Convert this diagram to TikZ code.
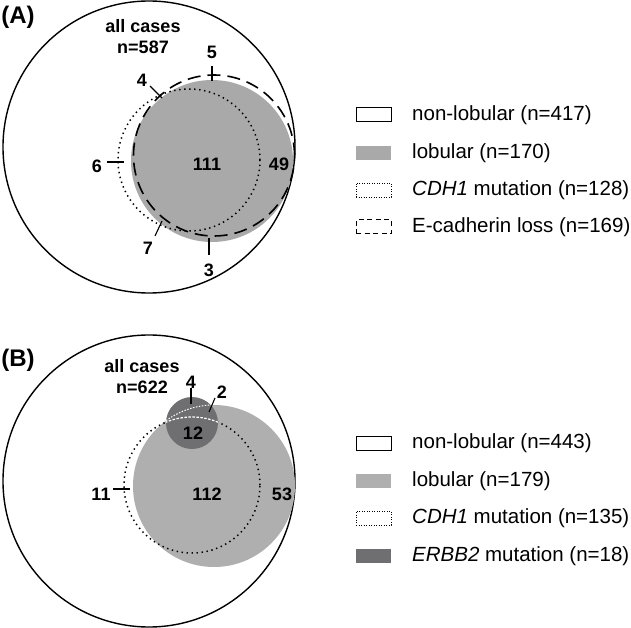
\documentclass[tikz,border=0pt]{standalone}
\usepackage{fontspec}
\setmainfont{Liberation Sans}
\definecolor{lobA}{HTML}{A9A9A9}
\definecolor{lobB}{HTML}{AFAFAF}
\definecolor{erb}{HTML}{6F6F71}
\begin{document}
\begin{tikzpicture}[x=1pt,y=-1pt,
  num/.style={font=\fontsize{18}{20}\selectfont\bfseries, inner sep=0pt},
  panel/.style={font=\fontsize{24}{28}\selectfont\bfseries, inner sep=0pt},
  leg/.style={font=\fontsize{20.5}{24}\selectfont, anchor=west, inner sep=0pt},
  legbox/.style={minimum width=35pt, minimum height=14pt, inner sep=0pt, line width=1pt},
  outercirc/.style={line width=1.4pt},
  dotline/.style={line width=1.5pt, dash pattern=on 1.4pt off 3.6pt},
  dashline/.style={line width=1.6pt, dash pattern=on 13pt off 7pt},
  tickline/.style={line width=1.1pt}]
\useasboundingbox (0,0) rectangle (631,628);

% ---------------- Panel A ----------------
\node[panel] (labA) at (18,17) {(A)};
\draw[outercirc, fill=white] (149,147) circle [radius=146pt];
\fill[lobA] (212,161) circle [radius=81pt];
\draw[dotline] (189,160) circle [radius=71pt];
\draw[dashline] (214,155.5) circle [radius=80.5pt];

\node[num] (allA) at (143,26) {all cases};
\node[num] (nA) at (143,47) {n=587};
\node[num] (a111) at (207,164) {111};
\node[num] (a49) at (279,164) {49};
\node[num] (a5) at (212,52) {5};
\node[num] (a4) at (142,80) {4};
\node[num] (a6) at (97,166) {6};
\node[num] (a7) at (148,248) {7};
\node[num] (a3) at (209,270) {3};
\coordinate (t5a) at (212,66); \coordinate (t5b) at (212,81);
\coordinate (t4a) at (150,86); \coordinate (t4b) at (162,98);
\coordinate (t6a) at (107,162); \coordinate (t6b) at (124,162);
\coordinate (t7a) at (155,236); \coordinate (t7b) at (162,221);
\coordinate (t3a) at (209,238); \coordinate (t3b) at (209,255);
\draw[tickline] (t5a) -- (t5b);
\draw[tickline] (t4a) -- (t4b);
\draw[tickline] (t6a) -- (t6b);
\draw[tickline] (t7a) -- (t7b);
\draw[tickline] (t3a) -- (t3b);

% legend A
\node[legbox, draw=black, fill=white] (lA1) at (373.5,115) {};
\node[legbox, fill=lobA] (lA2) at (373.5,153) {};
\node[legbox, draw=black, line width=0.9pt, dash pattern=on 0.9pt off 1.6pt] (lA3) at (373.5,190) {};
\node[legbox, draw=black, line width=1pt, dash pattern=on 5pt off 3.5pt] (lA4) at (373.5,227) {};
\node[leg] (tA1) at (412,115) {non-lobular (n=417)};
\node[leg] (tA2) at (412,153) {lobular (n=170)};
\node[leg] (tA3) at (412,190) {\textit{CDH1} mutation (n=128)};
\node[leg] (tA4) at (412,227) {E-cadherin loss (n=169)};

% ---------------- Panel B ----------------
\node[panel] (labB) at (18,360) {(B)};
\draw[outercirc, fill=white] (149,481) circle [radius=146pt];
\fill[lobB] (214,486) circle [radius=81pt];
\draw[dotline] (192,485) circle [radius=68pt];
\fill[erb] (192,423) circle [radius=26pt];
\begin{scope}
  \clip (192,423) circle [radius=26pt];
  \draw[white, line width=1pt, dash pattern=on 1.5pt off 1.5pt] (214,486) circle [radius=81pt];
  \draw[white, line width=1.2pt, dash pattern=on 2.5pt off 1.5pt] (192,485) circle [radius=68pt];
\end{scope}

\node[num] (allB) at (142,366) {all cases};
\node[num] (nB) at (142,387) {n=622};
\node[num] (b4) at (191,382) {4};
\node[num] (b2) at (222,392) {2};
\node[num] (b12) at (193,433) {12};
\node[num] (b11) at (101,494) {11};
\node[num] (b112) at (207,494) {112};
\node[num] (b53) at (282,494) {53};
\coordinate (u4a) at (191,388); \coordinate (u4b) at (191,404);
\coordinate (u2a) at (215,398); \coordinate (u2b) at (209,412);
\coordinate (u11a) at (113,489); \coordinate (u11b) at (130,489);
\draw[tickline] (u4a) -- (u4b);
\draw[tickline] (u2a) -- (u2b);
\draw[tickline] (u11a) -- (u11b);

% legend B
\node[legbox, draw=black, fill=white] (lB1) at (373.5,443) {};
\node[legbox, fill=lobB] (lB2) at (373.5,481) {};
\node[legbox, draw=black, line width=0.9pt, dash pattern=on 0.9pt off 1.6pt] (lB3) at (373.5,518) {};
\node[legbox, fill=erb] (lB4) at (373.5,556) {};
\node[leg] (tB1) at (412,443) {non-lobular (n=443)};
\node[leg] (tB2) at (412,481) {lobular (n=179)};
\node[leg] (tB3) at (412,518) {\textit{CDH1} mutation (n=135)};
\node[leg] (tB4) at (412,556) {\textit{ERBB2} mutation (n=18)};
\end{tikzpicture}
\end{document}
